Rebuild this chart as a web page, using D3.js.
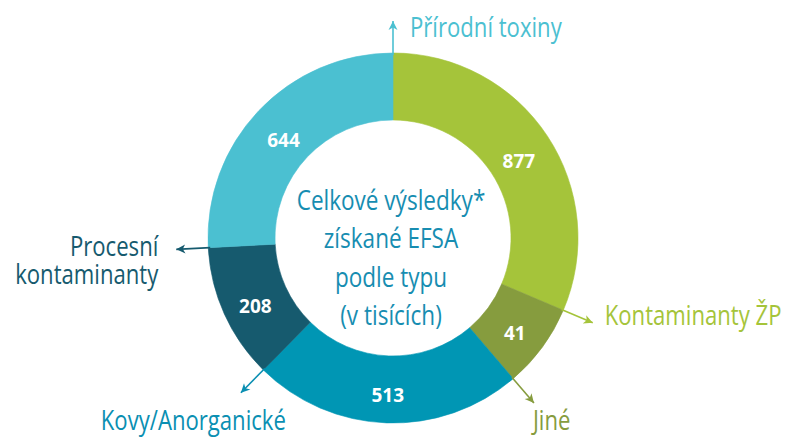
<!DOCTYPE html>
<html>
<head>
<meta charset="utf-8">
<script src="https://cdn.jsdelivr.net/npm/d3@7"></script>
<style>
  html, body { margin: 0; padding: 0; background: #ffffff; }
  svg { display: block; }
</style>
</head>
<body>
<div id="chart"></div>
<script>
// ---------------- data ----------------
const categories = ["Kontaminanty ŽP", "Jiné", "Kovy/Anorganické", "Procesní kontaminanty", "Přírodní toxiny"];
const values = [877, 41, 513, 208, 644];
// angular share of each ring segment as drawn in the source graphic (degrees)
const drawnShare = [113, 26.5, 85, 42.5, 93];
const centerTitle = ["Celkové výsledky*", "získané EFSA", "podle typu", "(v tisících)"];

// ---------------- styling ----------------
const palette = ["#a5c43a", "#869c3e", "#0096b4", "#165a6e", "#4bc0d1"];
const labelColors = ["#a5c43a", "#869c3e", "#0a8fb2", "#165a6e", "#4bc0d1"];
const W = 788, H = 437;
const cx = 393, cy = 238, rOuter = 185, rInner = 118, arrowLen = 32;
const FONT = "'Open Sans', 'Noto Sans', sans-serif";
const SQUEEZE = 0.82;

const svg = d3.select("#chart").append("svg").attr("width", W).attr("height", H);
const g = svg.append("g").attr("transform", `translate(${cx},${cy})`);

const color = d3.scaleOrdinal(categories, palette);
const labelColor = d3.scaleOrdinal(categories, labelColors);

const pie = d3.pie().sort(null).value(i => drawnShare[i]);
const arcs = pie(d3.range(categories.length));
const arc = d3.arc().innerRadius(rInner).outerRadius(rOuter);

g.selectAll("path.seg").data(arcs).join("path")
  .attr("class", "seg")
  .attr("d", arc)
  .attr("fill", d => color(categories[d.data]))
  .attr("stroke", d => color(categories[d.data]))
  .attr("stroke-width", 0.6);

// value labels
const labelArc = d3.arc().innerRadius(151).outerRadius(151);
g.selectAll("text.val").data(arcs).join("text")
  .attr("class", "val")
  .attr("x", d => labelArc.centroid(d)[0])
  .attr("y", d => labelArc.centroid(d)[1] + 6)
  .attr("text-anchor", "middle")
  .attr("dominant-baseline", "central")
  .attr("font-family", FONT)
  .attr("font-weight", 700)
  .attr("font-size", 19)
  .attr("fill", "#ffffff")
  .text(d => values[d.data]);

// arrows at each segment's end angle
function pointAt(angle, r) { return [r * Math.sin(angle), -r * Math.cos(angle)]; }
arcs.forEach(d => {
  const a = d.endAngle;
  const p0 = pointAt(a, rOuter - 2);
  const p1 = pointAt(a, rOuter + arrowLen);
  const c = labelColor(categories[d.data]);
  g.append("line")
    .attr("x1", p0[0]).attr("y1", p0[1])
    .attr("x2", p1[0]).attr("y2", p1[1])
    .attr("stroke", c).attr("stroke-width", 1.6);
  const deg = a * 180 / Math.PI - 90;
  g.append("path")
    .attr("d", "M0,0 L-9,-4.5 L-6.5,0 L-9,4.5 Z")
    .attr("fill", c)
    .attr("transform", `translate(${p1[0]},${p1[1]}) rotate(${deg})`);
});

// outer category labels (placed relative to each arrow tip)
const labelLayout = {
  "Přírodní toxiny": { dx: 17, dy: 16, anchor: "start" },
  "Kontaminanty ŽP": { dx: 12, dy: 2, anchor: "start" },
  "Jiné": { dx: -1, dy: 27, anchor: "start" },
  "Kovy/Anorganické": { dx: 45, dy: 37, anchor: "end" },
  "Procesní kontaminanty": { dx: -18, dy: 7, anchor: "end", lines: ["Procesní", "kontaminanty"] }
};
function squeezedText(parent, x, y, lines, anchor, size, fill, lineH) {
  const t = parent.append("text")
    .attr("transform", `translate(${x},${y}) scale(${SQUEEZE},1)`)
    .attr("text-anchor", anchor)
    .attr("font-family", FONT)
    .attr("font-size", size)
    .attr("fill", fill);
  lines.forEach((ln, k) => {
    t.append("tspan").attr("x", 0).attr("y", k * lineH).text(ln);
  });
  return t;
}
arcs.forEach(d => {
  const name = categories[d.data];
  const L = labelLayout[name];
  const tip = pointAt(d.endAngle, rOuter + arrowLen);
  squeezedText(g, tip[0] + L.dx, tip[1] + L.dy, L.lines || [name], L.anchor, 27, labelColor(name), 28);
});

// center title
squeezedText(g, -2, -28, centerTitle, "middle", 27.5, "#178db1", 38.5);
</script>
</body>
</html>
